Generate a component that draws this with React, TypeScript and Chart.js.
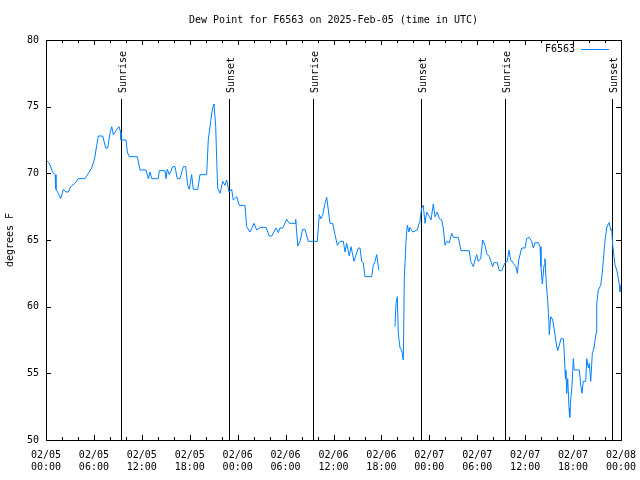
import React, { useEffect, useRef } from "react";
import { Chart, registerables } from "chart.js";

Chart.register(...registerables);

const chartTitle = "Dew Point for F6563 on 2025-Feb-05 (time in UTC)";
const seriesName = "F6563";
const yAxisTitle = "degrees F";

// hours since 2025-02-05 00:00 UTC
const hours = [
  0.0, 0.41, 0.84, 1.13, 1.25, 1.54, 1.84, 2.17, 2.5, 2.79, 3.09, 3.63, 4.04, 4.88, 5.3, 5.72, 5.92, 6.14, 6.35, 6.55,
  7.1, 7.48, 7.73, 8.01, 8.23, 8.43, 8.77, 9.14, 9.35, 9.39, 10.02, 10.18, 10.43, 11.43, 11.77, 12.52, 12.81, 13.02,
  13.24, 14.06, 14.19, 14.9, 15.03, 15.19, 15.44, 15.87, 16.15, 16.44, 16.78, 17.19, 17.49, 17.74, 17.94, 18.24, 18.44,
  19.0, 19.28, 20.12, 20.32, 20.62, 20.87, 21.04, 21.25, 21.38, 21.5, 21.79, 22.13, 22.41, 22.63, 22.91, 23.25, 23.45,
  23.88, 24.2, 24.92, 25.13, 25.54, 26.05, 26.38, 26.88, 27.55, 27.96, 28.26, 28.8, 29.09, 29.3, 29.64, 30.14, 30.47,
  31.18, 31.27, 31.39, 31.52, 31.81, 32.14, 32.43, 32.84, 33.97, 34.22, 34.43, 34.65, 34.94, 35.15, 35.35, 35.56,
  35.9, 36.19, 36.48, 36.81, 37.23, 37.44, 37.65, 37.98, 38.19, 38.57, 38.82, 39.11, 39.32, 39.53, 39.73, 39.94,
  40.78, 40.98, 41.2, 41.41, 41.53, 41.66, 42.7, 43.7, 43.83, 43.99, 44.11, 44.33, 44.54, 44.74, 44.87, 45.08, 45.24,
  45.45, 45.58, 45.92, 46.49, 46.74, 46.83, 47.04, 47.24, 47.46, 47.67, 48.0, 48.21, 48.5, 48.71, 49.0, 49.25, 49.55,
  49.75, 49.96, 50.18, 50.5, 50.8, 51.0, 51.63, 51.97, 53.0, 53.18, 53.51, 53.72, 53.93, 54.13, 54.43, 54.68, 54.97,
  55.18, 55.51, 55.93, 56.1, 56.51, 56.76, 57.06, 57.48, 57.76, 57.98, 58.19, 58.51, 58.85, 59.02, 59.19, 59.44,
  59.57, 59.98, 60.19, 60.52, 60.82, 61.02, 61.23, 61.64, 61.86, 61.98, 62.15, 62.36, 62.48, 62.61, 62.82, 62.98,
  63.02, 63.2, 63.45, 63.61, 63.82, 64.07, 64.27, 64.49, 64.78, 64.9, 65.03, 65.11, 65.2, 65.33, 65.49, 65.58, 65.7,
  65.87, 66.03, 66.15, 66.78, 66.96, 67.12, 67.28, 67.58, 67.71, 67.91, 68.03, 68.21, 68.41, 68.62, 68.87, 68.96,
  69.16, 69.46, 69.66, 69.78, 69.99, 70.2, 70.41, 70.53, 70.71, 70.84, 70.96, 71.13, 71.26, 71.47, 71.67, 71.8,
  71.88, 72.0,
];

const dewPoint: (number | null)[] = [
  71.0, 70.75, 70.1, 69.9, 68.8, 68.5, 68.1, 68.8, 68.6, 68.6, 69.0, 69.25, 69.6, 69.6, 70.0, 70.4, 70.75, 71.3, 72.1,
  72.8, 72.8, 71.9, 71.9, 73.0, 73.5, 72.9, 73.2, 73.5, 73.1, 72.5, 72.5, 71.6, 71.25, 71.25, 70.25, 70.25, 69.6,
  70.1, 69.6, 69.6, 70.2, 70.2, 69.6, 70.3, 69.9, 70.5, 70.5, 69.6, 69.6, 70.5, 70.5, 69.1, 68.8, 69.9, 68.8, 68.8,
  69.9, 69.9, 72.5, 73.9, 74.9, 75.2, 73.5, 70.9, 68.9, 68.5, 69.4, 69.1, 69.5, 68.6, 68.8, 68.0, 68.25, 67.6, 67.6,
  66.0, 65.6, 66.25, 65.75, 65.95, 65.95, 65.3, 65.3, 65.9, 65.55, 65.9, 65.9, 66.55, 66.25, 66.25, 66.55, 65.6,
  64.55, 64.9, 65.8, 65.8, 64.9, 64.9, 66.9, 66.6, 66.9, 67.75, 68.2, 67.25, 66.25, 66.25, 65.4, 64.6, 64.9, 64.9,
  64.1, 64.75, 63.8, 64.5, 63.4, 63.9, 64.4, 64.4, 63.4, 63.3, 62.25, 62.25, 63.1, 63.4, 63.9, 63.4, 62.75, null,
  58.5, 60.25, 60.75, 58.0, 56.9, 56.75, 56.0, 62.25, 64.9, 66.1, 65.6, 65.95, 65.6, 65.75, 66.3, 66.5, 67.4, 67.6,
  66.25, 67.1, 66.75, 66.5, 67.7, 66.75, 67.1, 66.6, 66.5, 65.9, 64.6, 64.9, 64.8, 65.5, 65.2, 65.2, 64.2, 64.2,
  63.4, 63.0, 63.5, 63.9, 63.4, 63.6, 65.0, 64.6, 64.0, 63.75, 63.0, 63.3, 63.3, 62.7, 62.7, 63.3, 63.4, 64.25, 63.5,
  63.25, 63.0, 62.5, 63.5, 64.1, 64.4, 64.4, 65.1, 65.2, 64.9, 64.4, 64.8, 64.8, 64.5, 63.0, 61.7, 63.1, 63.6, 62.1,
  60.4, 58.75, 57.9, 59.25, 59.0, 58.4, 57.5, 56.7, 57.1, 57.6, 57.6, 56.5, 54.6, 55.25, 53.5, 54.6, 52.4, 51.7, 53.0,
  54.1, 56.1, 55.25, 55.25, 54.1, 53.5, 54.4, 54.4, 56.1, 55.4, 55.75, 54.4, 56.5, 56.9, 58.0, 60.25, 61.25, 61.6,
  62.6, 63.4, 64.9, 65.9, 66.2, 66.3, 65.75, 65.8, 64.6, 63.75, 63.1, 62.75, 62.1, 61.6, 61.1, 61.7,
];

const xTickLabels = [
  ["02/05", "00:00"], ["02/05", "06:00"], ["02/05", "12:00"], ["02/05", "18:00"],
  ["02/06", "00:00"], ["02/06", "06:00"], ["02/06", "12:00"], ["02/06", "18:00"],
  ["02/07", "00:00"], ["02/07", "06:00"], ["02/07", "12:00"], ["02/07", "18:00"],
  ["02/08", "00:00"],
];

const sunEventHours = [9.43, 22.93, 33.45, 46.9, 57.48, 70.92];
const sunEventLabels = ["Sunrise", "Sunset", "Sunrise", "Sunset", "Sunrise", "Sunset"];

const FONT = "'DejaVu Sans Mono', 'Liberation Mono', monospace";
const LINE_COLOR = "rgb(0,128,255)";

const decorPlugin = {
  id: "gnuplotDecor",
  beforeDatasetsDraw(chart: any) {
    const { ctx, chartArea, scales } = chart;
    const x = scales.x;
    ctx.save();
    ctx.strokeStyle = "#000";
    ctx.lineWidth = 1;
    ctx.fillStyle = "#000";
    ctx.font = `10px ${FONT}`;
    sunEventHours.forEach((h, i) => {
      const px = Math.round(x.getPixelForValue(h)) + 0.5;
      ctx.beginPath();
      ctx.moveTo(px, chartArea.top + 59);
      ctx.lineTo(px, chartArea.bottom);
      ctx.stroke();
      ctx.save();
      ctx.translate(px + 1.5, chartArea.top + 53);
      ctx.rotate(-Math.PI / 2);
      ctx.textAlign = "left";
      ctx.textBaseline = "middle";
      ctx.fillText(sunEventLabels[i], 0, 0);
      ctx.restore();
    });
    ctx.restore();
  },
  afterDraw(chart: any) {
    const { ctx, chartArea, scales } = chart;
    const x = scales.x;
    const y = scales.y;
    ctx.save();
    ctx.strokeStyle = "#000";
    ctx.lineWidth = 1;
    ctx.strokeRect(chartArea.left + 0.5, chartArea.top + 0.5, chartArea.right - chartArea.left, chartArea.bottom - chartArea.top);
    ctx.beginPath();
    for (let v = 0; v <= 72; v += 2) {
      const px = Math.round(x.getPixelForValue(v)) + 0.5;
      const len = v % 6 === 0 ? 5 : 3;
      ctx.moveTo(px, chartArea.bottom);
      ctx.lineTo(px, chartArea.bottom - len);
      ctx.moveTo(px, chartArea.top);
      ctx.lineTo(px, chartArea.top + len);
    }
    for (let v = 50; v <= 80; v += 5) {
      const py = Math.round(y.getPixelForValue(v)) + 0.5;
      ctx.moveTo(chartArea.left, py);
      ctx.lineTo(chartArea.left + 5, py);
      ctx.moveTo(chartArea.right, py);
      ctx.lineTo(chartArea.right - 5, py);
    }
    ctx.stroke();
    ctx.fillStyle = "#000";
    ctx.font = `10px ${FONT}`;
    ctx.textAlign = "center";
    ctx.textBaseline = "middle";
    ctx.fillText(chartTitle, (chartArea.left + chartArea.right) / 2, 20);
    ctx.textAlign = "right";
    ctx.fillText(seriesName, chartArea.right - 46, chartArea.top + 9);
    ctx.strokeStyle = LINE_COLOR;
    ctx.beginPath();
    ctx.moveTo(chartArea.right - 40, chartArea.top + 9.5);
    ctx.lineTo(chartArea.right - 12, chartArea.top + 9.5);
    ctx.stroke();
    ctx.restore();
  },
};

export default function App() {
  const canvasRef = useRef<HTMLCanvasElement | null>(null);

  useEffect(() => {
    if (!canvasRef.current) return;
    const points = hours.map((h, i) => ({ x: h, y: dewPoint[i] }));
    const chart = new Chart(canvasRef.current, {
      type: "line",
      data: {
        datasets: [
          {
            label: seriesName,
            data: points as any,
            borderColor: LINE_COLOR,
            borderWidth: 1,
            pointRadius: 0,
            tension: 0,
            spanGaps: false,
            fill: false,
          },
        ],
      },
      options: {
        animation: false,
        responsive: false,
        maintainAspectRatio: false,
        layout: { padding: { top: 40, right: 19, left: 0, bottom: 0 } },
        plugins: {
          legend: { display: false },
          title: { display: false },
          tooltip: { enabled: false },
        },
        scales: {
          x: {
            type: "linear",
            min: 0,
            max: 72,
            grid: { display: false, drawTicks: false },
            border: { display: false },
            ticks: {
              stepSize: 6,
              autoSkip: false,
              maxRotation: 0,
              minRotation: 0,
              padding: 9,
              color: "#000",
              font: { family: FONT, size: 10, lineHeight: 1.2 },
              callback: (value: any) => {
                const idx = Math.round(Number(value) / 6);
                return xTickLabels[idx] ?? "";
              },
            },
            afterFit: (scale: any) => {
              scale.height = 40;
              scale.paddingLeft = 0;
              scale.paddingRight = 0;
            },
          },
          y: {
            type: "linear",
            min: 50,
            max: 80,
            grid: { display: false, drawTicks: false },
            border: { display: false },
            ticks: {
              stepSize: 5,
              padding: 7,
              color: "#000",
              font: { family: FONT, size: 10 },
            },
            title: {
              display: true,
              text: yAxisTitle,
              color: "#000",
              font: { family: FONT, size: 10, lineHeight: 1.2 },
              padding: { top: 4, bottom: 0 },
            },
            afterFit: (scale: any) => {
              scale.width = 46;
              scale.paddingTop = 0;
              scale.paddingBottom = 0;
            },
          },
        },
      },
      plugins: [decorPlugin],
    });
    return () => chart.destroy();
  }, []);

  return (
    <div style={{ position: "fixed", left: 0, top: 0, width: 640, height: 480, background: "#fff" }}>
      <canvas ref={canvasRef} width={640} height={480} style={{ width: 640, height: 480 }} />
    </div>
  );
}
